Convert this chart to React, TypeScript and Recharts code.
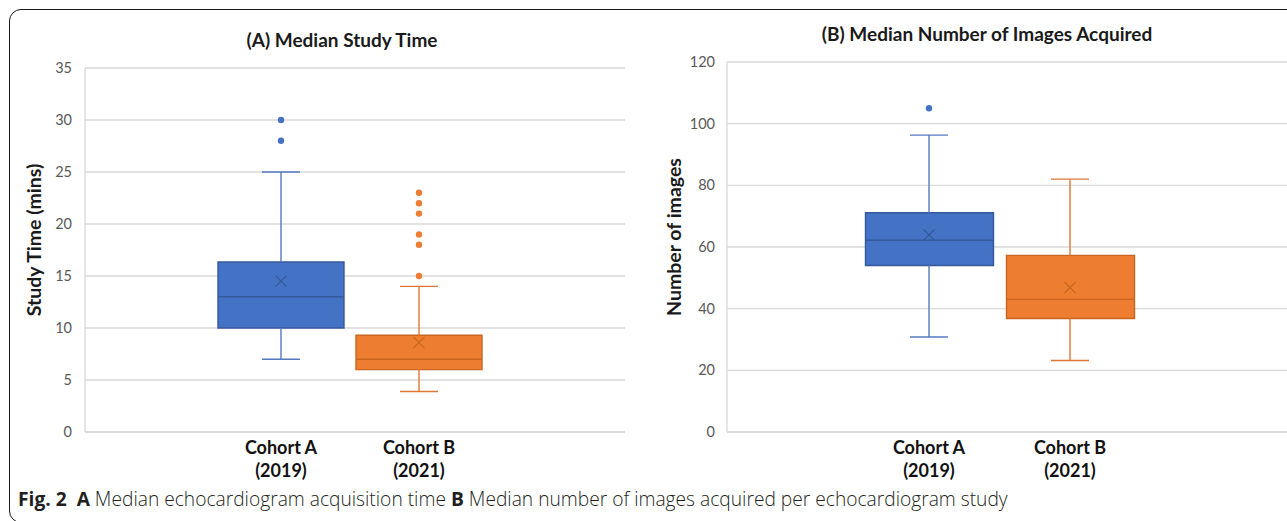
import React from 'react';
import { ComposedChart, Bar, Scatter, ErrorBar, XAxis, YAxis, CartesianGrid, Cell } from 'recharts';

const cohortNames = ['Cohort A', 'Cohort B'];
const cohortYears = ['(2019)', '(2021)'];

// (A) study time in minutes
const timeMin = [7, 3.9];
const timeQ1 = [10, 6];
const timeMedian = [13, 7];
const timeQ3 = [16.35, 9.3];
const timeMax = [25, 14];
const timeMean = [14.5, 8.6];
const timeOutliers = [[28, 30], [15, 18, 19, 21, 22, 23]];
const timeTicks = [0, 5, 10, 15, 20, 25, 30, 35];

// (B) number of images
const imgMin = [30.8, 23.2];
const imgQ1 = [54, 36.8];
const imgMedian = [62.2, 43];
const imgQ3 = [71.1, 57.3];
const imgMax = [96.3, 82];
const imgMean = [63.9, 46.8];
const imgOutliers = [[105], []];
const imgTicks = [0, 20, 40, 60, 80, 100, 120];

const fills = ['#4472C4', '#ED7D31'];
const edges = ['#34599C', '#C9651F'];
const whiskers = ['#5579BE', '#DE7636'];

const GRID = '#D9D9D9';
const FONT = 'Lato, "Open Sans", sans-serif';

function buildRows(min: number[], q1: number[], med: number[], q3: number[], max: number[], mean: number[]) {
  return cohortNames.map((cohort, i) => ({
    cohort,
    box: [q1[i], q3[i]],
    median: med[i],
    mean: mean[i],
    min: min[i],
    max: max[i],
    upper: [max[i] - q3[i], 0],
    lower: [0, q1[i] - min[i]],
  }));
}

const timeRows = buildRows(timeMin, timeQ1, timeMedian, timeQ3, timeMax, timeMean);
const imgRows = buildRows(imgMin, imgQ1, imgMedian, imgQ3, imgMax, imgMean);

function CohortTick(props: any) {
  const { x, y, index } = props;
  return (
    <g>
      <text x={x} y={y + 14} textAnchor="middle" fontFamily={FONT} fontWeight={700} fontSize={18} fill="#111">
        {cohortNames[index]}
      </text>
      <text x={x} y={y + 37} textAnchor="middle" fontFamily={FONT} fontWeight={700} fontSize={18} fill="#111">
        {cohortYears[index]}
      </text>
    </g>
  );
}

type PanelProps = {
  rows: any[];
  outliers: number[][];
  ticks: number[];
  width: number;
  height: number;
  top: number;
  right: number;
  yWidth: number;
  tickGap: number;
  padding: { left: number; right: number };
  barSize: number;
  capWidth: number;
};

function BoxPanel({ rows, outliers, ticks, width, height, top, right, yWidth, tickGap, padding, barSize, capWidth }: PanelProps) {
  const cap = (i: number) => (p: any) => (
    <line x1={p.cx - capWidth / 2} x2={p.cx + capWidth / 2} y1={p.cy} y2={p.cy} stroke={whiskers[i]} strokeWidth={1.4} />
  );
  const medianLine = (i: number) => (p: any) => (
    <line x1={p.cx - barSize / 2} x2={p.cx + barSize / 2} y1={p.cy} y2={p.cy} stroke={edges[i]} strokeWidth={1.4} />
  );
  const meanMark = (i: number) => (p: any) => (
    <g stroke={edges[i]} strokeWidth={1.2}>
      <line x1={p.cx - 5.5} x2={p.cx + 5.5} y1={p.cy - 5.5} y2={p.cy + 5.5} />
      <line x1={p.cx - 5.5} x2={p.cx + 5.5} y1={p.cy + 5.5} y2={p.cy - 5.5} />
    </g>
  );
  const dot = (i: number) => (p: any) => <circle cx={p.cx} cy={p.cy} r={3.2} fill={fills[i]} />;

  return (
    <ComposedChart width={width} height={height} data={rows} margin={{ top, right, bottom: 8, left: 0 }}>
      <CartesianGrid vertical={false} stroke={GRID} strokeWidth={1.3} />
      <XAxis
        dataKey="cohort"
        allowDuplicatedCategory={false}
        padding={padding}
        axisLine={{ stroke: GRID, strokeWidth: 1.3 }}
        tickLine={false}
        height={50}
        interval={0}
        tick={(p: any) => <CohortTick {...p} />}
      />
      <YAxis
        type="number"
        domain={[ticks[0], ticks[ticks.length - 1]]}
        ticks={ticks}
        width={yWidth}
        axisLine={{ stroke: GRID, strokeWidth: 1.3 }}
        tickLine={false}
        tickMargin={tickGap}
        tick={{ fontSize: 14.5, fill: '#595959', fontFamily: FONT }}
      />
      <Bar dataKey="box" barSize={barSize} strokeWidth={1.4} isAnimationActive={false}>
        {rows.map((r, i) => (
          <Cell key={r.cohort} fill={fills[i]} stroke={edges[i]} />
        ))}
      </Bar>
      {rows.map((r, i) => [
        <Scatter key={'max' + i} data={[r]} dataKey="max" shape={cap(i)} isAnimationActive={false}>
          <ErrorBar dataKey="upper" direction="y" width={0} stroke={whiskers[i]} strokeWidth={1.4} isAnimationActive={false} />
        </Scatter>,
        <Scatter key={'min' + i} data={[r]} dataKey="min" shape={cap(i)} isAnimationActive={false}>
          <ErrorBar dataKey="lower" direction="y" width={0} stroke={whiskers[i]} strokeWidth={1.4} isAnimationActive={false} />
        </Scatter>,
        <Scatter key={'med' + i} data={[r]} dataKey="median" shape={medianLine(i)} isAnimationActive={false} />,
        <Scatter key={'mean' + i} data={[r]} dataKey="mean" shape={meanMark(i)} isAnimationActive={false} />,
        outliers[i].length > 0 ? (
          <Scatter
            key={'out' + i}
            data={outliers[i].map((v) => ({ cohort: r.cohort, value: v }))}
            dataKey="value"
            shape={dot(i)}
            isAnimationActive={false}
          />
        ) : null,
      ])}
    </ComposedChart>
  );
}

const abs = (left: number, top: number, size: number): React.CSSProperties => ({
  position: 'absolute',
  left,
  top,
  transform: 'translate(-50%, -50%)',
  whiteSpace: 'nowrap',
  fontFamily: FONT,
  fontWeight: 700,
  fontSize: size,
  color: '#1a1a1a',
});

export default function App() {
  return (
    <div style={{ position: 'relative', width: 1287, height: 521, overflow: 'hidden', background: '#fff' }}>
      <style>{'body{margin:0;overflow:hidden;}'}</style>
      <div
        style={{
          position: 'absolute',
          left: 9,
          top: 9,
          width: 1400,
          height: 514,
          boxSizing: 'border-box',
          border: '1.5px solid #1a1a1a',
          borderRadius: 12,
        }}
      />
      <div style={{ position: 'absolute', left: 0, top: 0 }}>
        <BoxPanel
          rows={timeRows}
          outliers={timeOutliers}
          ticks={timeTicks}
          width={640}
          height={490}
          top={68}
          right={15}
          yWidth={85}
          tickGap={7}
          padding={{ left: 127, right: 137 }}
          barSize={126}
          capWidth={38}
        />
      </div>
      <div style={{ position: 'absolute', left: 640, top: 0 }}>
        <BoxPanel
          rows={imgRows}
          outliers={imgOutliers}
          ticks={imgTicks}
          width={647}
          height={490}
          top={62}
          right={0}
          yWidth={87}
          tickGap={6}
          padding={{ left: 131.5, right: 146.5 }}
          barSize={128}
          capWidth={38}
        />
      </div>
      <div style={abs(342, 39, 19)}>(A) Median Study Time</div>
      <div style={abs(987, 33, 19)}>(B) Median Number of Images Acquired</div>
      <div style={{ ...abs(33, 240, 19.5), transform: 'translate(-50%, -50%) rotate(-90deg)' }}>Study Time (mins)</div>
      <div style={{ ...abs(673, 237, 19.5), transform: 'translate(-50%, -50%) rotate(-90deg)' }}>Number of images</div>
      <div
        style={{
          position: 'absolute',
          left: 18,
          top: 489,
          fontFamily: '"Open Sans", sans-serif',
          fontSize: 19.2,
          lineHeight: '19px',
          fontWeight: 300,
          color: '#231F20',
          whiteSpace: 'nowrap',
        }}
      >
        <b style={{ fontWeight: 700 }}>Fig. 2</b>&nbsp;&nbsp;<b style={{ fontWeight: 700 }}>A</b> Median echocardiogram acquisition time{' '}
        <b style={{ fontWeight: 700 }}>B</b> Median number of images acquired per echocardiogram study
      </div>
    </div>
  );
}
